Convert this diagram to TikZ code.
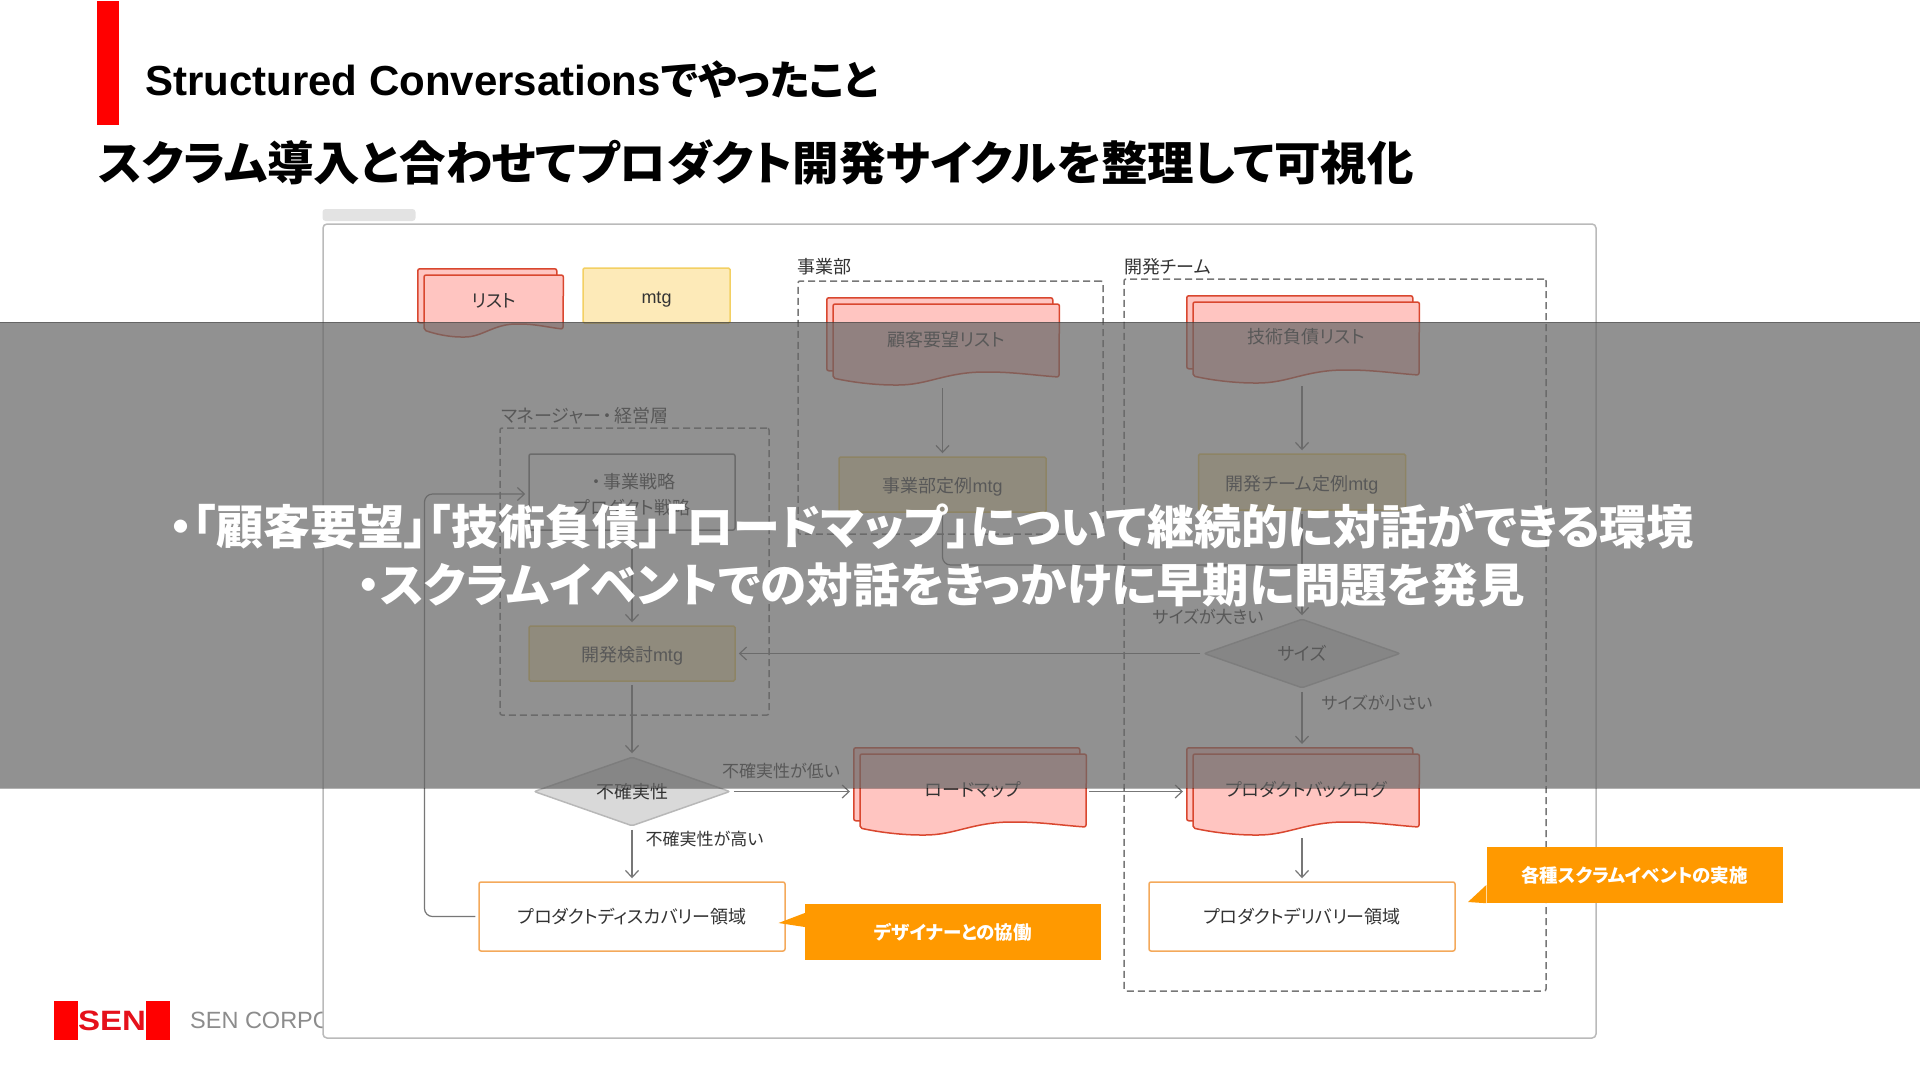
\documentclass[tikz,border=0pt]{standalone}
\usepackage{fontspec}
\setmainfont{Noto Sans CJK JP}[RawFeature=+palt]
\newfontfamily\latinfont{Liberation Sans}
\usetikzlibrary{arrows.meta,shapes.geometric}
\definecolor{barred}{HTML}{FF0000}
\definecolor{logored}{HTML}{E5101A}
\definecolor{docfill}{HTML}{FFC5C1}
\definecolor{docline}{HTML}{D9472F}
\definecolor{mtgfill}{HTML}{FDEAB8}
\definecolor{mtgline}{HTML}{F3D063}
\definecolor{arealine}{HTML}{F4A95B}
\definecolor{calloutfill}{HTML}{FF9900}
\definecolor{linegray}{HTML}{777777}
\definecolor{textgray}{HTML}{333333}
\definecolor{veilgray}{HTML}{676767}
\newcommand{\stackdoc}[6]{%
    \node[docback, minimum width=#4, minimum height=#5, anchor=north west] (#1back) at (#2,#3) {};
    \node[inner sep=0pt, minimum width=#4, minimum height=#5+8, anchor=north west] (#1) at (#2+7,#3+7) {};
    \draw[docfront] (#1.north west) -- (#1.north east) -- (#2+7+#4,#3+#5+7)
        .. controls (#2+7+0.9*#4,#3+#5+5.5) and (#2+7+0.8*#4,#3+#5+2) .. (#2+7+0.68*#4,#3+#5+2)
        .. controls (#2+7+0.5*#4,#3+#5+2) and (#2+7+0.42*#4,#3+#5+15) .. (#2+7+0.28*#4,#3+#5+15)
        .. controls (#2+7+0.2*#4,#3+#5+15) and (#2+7+0.1*#4,#3+#5+13) .. (#2+7,#3+#5+8) -- cycle;
    \node[plain] (#1label) at ([yshift=5.5pt]#1.center) {#6};
}
\begin{document}
\begin{tikzpicture}
    [x=1pt, y=-1pt,
    plain/.style={inner sep=0pt, text=textgray, font=\fontsize{18}{26}\selectfont},
    caption/.style={plain, anchor=west},
    sidenote/.style={plain, font=\fontsize{17}{26}\selectfont},
    boardbox/.style={draw=black!27, fill=white, line width=1.5pt, rounded corners=4pt, inner sep=0pt},
    team/.style={draw=linegray, dash pattern=on 7pt off 4pt, line width=1.5pt, rounded corners=2pt, inner sep=0pt},
    docback/.style={draw=docline, fill=docfill, line width=1.5pt, rounded corners=2pt, inner sep=0pt},
    docfront/.style={draw=docline, fill=docfill, line width=1.5pt, rounded corners=2pt},
    mtg/.style={plain, draw=mtgline, fill=mtgfill, line width=1.5pt, rounded corners=1.5pt, text height=19pt, text depth=2.6pt},
    planbox/.style={plain, draw=linegray, line width=1.5pt, rounded corners=2pt},
    areabox/.style={plain, draw=arealine, fill=white, line width=1.5pt, rounded corners=2pt},
    choice/.style={plain, diamond, shape aspect=2.84, draw=black!28, fill=black!15, line width=1.5pt, rounded corners=2pt, minimum width=196pt, minimum height=69pt},
    callout/.style={inner sep=0pt, fill=calloutfill, text=white, font=\fontsize{18.5}{22}\selectfont\bfseries, minimum width=296pt, minimum height=56pt},
    ->-/.style={draw=linegray, line width=1.2pt, -{Straight Barb[length=7pt, width=13pt]}, shorten >=3pt, shorten <=3pt},
    link/.style={draw=linegray, line width=1.2pt, shorten <=3pt, rounded corners=8pt},
    veilbox/.style={fill=veilgray, fill opacity=0.72, draw=black, draw opacity=0.3, line width=1pt, inner sep=0pt, minimum width=1922pt, minimum height=466pt},
    message/.style={inner sep=0pt, anchor=west, text=white, font=\fontsize{47}{56}\selectfont\bfseries}]
    \useasboundingbox (0,0) rectangle (1920,1080);

    %% Heading
    \node[fill=barred, inner sep=0pt, minimum width=22pt, minimum height=124pt] (bar) at (108,63) {};
    \node[inner sep=0pt, anchor=west, font=\fontsize{42}{48}\selectfont\bfseries] (title) at (145,80) {{\latinfont Structured Conversations}{\fontsize{41}{48}\selectfont でやったこと}};
    \node[inner sep=0pt, anchor=west, font=\fontsize{46.5}{56}\selectfont\bfseries] (subtitle) at (98,162) {スクラム導入と合わせてプロダクト開発サイクルを整理して可視化};

    %% Logo
    \node[fill=barred, inner sep=0pt, minimum width=24pt, minimum height=39pt] (logoL) at (66,1020.5) {};
    \node[fill=barred, inner sep=0pt, minimum width=24pt, minimum height=39pt] (logoR) at (158,1020.5) {};
    \node[inner sep=0pt, text=logored, xscale=1.18, transform shape, font=\latinfont\fontsize{28}{30}\selectfont\bfseries] (logoT) at (112,1021) {SEN};
    \node[inner sep=0pt, anchor=west, text=black!45, font=\latinfont\fontsize{23.5}{28}\selectfont] (corp) at (190,1020) {SEN CORPOR};

    %% Frame
    \node[fill=black!11, rounded corners=3pt, inner sep=0pt, minimum width=93pt, minimum height=12pt] (pill) at (369,215) {};
    \node[boardbox, minimum width=1273pt, minimum height=814pt] (board) at (959.5,631) {};

    %% Legend
    \stackdoc{legendDoc}{417}{268}{139}{54}{リスト}
    \node[mtg, minimum width=147pt, minimum height=55pt] (legendMtg) at (656.5,295.5) {{\latinfont mtg}};

    %% Teams
    \node[team, minimum width=305pt, minimum height=253pt] (bizTeam) at (950.5,407.5) {};
    \node[team, minimum width=422pt, minimum height=712pt] (devTeam) at (1335,635) {};
    \node[team, minimum width=269pt, minimum height=287pt] (mgrTeam) at (634.5,571.5) {};
    \node[caption] (bizTitle) at (797,267) {事業部};
    \node[caption] (devTitle) at (1124,267) {開発チーム};
    \node[caption] (mgrTitle) at (501,416) {マネージャー\kern2pt・\kern2pt経営層};

    %% Business side
    \stackdoc{custDoc}{826}{297}{226}{73}{顧客要望リスト}
    \node[mtg, minimum width=207pt, minimum height=55pt] (bizMtg) at (942.5,484.5) {事業部定例{\latinfont mtg}};

    %% Development side
    \stackdoc{debtDoc}{1186}{295}{226}{73}{技術負債リスト}
    \node[mtg, minimum width=207pt, minimum height=56pt] (devMtg) at (1302,482) {開発チーム定例{\latinfont mtg}};
    \node[choice] (sizeDec) at (1302,653.5) {サイズ};
    \node[sidenote] (bigLabel) at (1208,617) {サイズが大きい};
    \node[sidenote] (smallLabel) at (1377,703) {サイズが小さい};
    \stackdoc{backlogDoc}{1186}{747}{226}{73}{プロダクトバックログ}
    \node[areabox, minimum width=306pt, minimum height=69pt] (delivery) at (1302,916.5) {プロダクトデリバリー領域};

    %% Manager side
    \node[planbox, minimum width=206pt, minimum height=76pt, align=center] (strategy) at (632,492) {\rule{0pt}{20pt}\kern3pt・\kern3pt事業戦略\\プロダクト戦略};
    \node[mtg, minimum width=206pt, minimum height=55pt] (reviewMtg) at (632,653.5) {開発検討{\latinfont mtg}};
    \node[choice] (riskDec) at (632,791.5) {不確実性};
    \node[sidenote] (lowLabel) at (781,771) {不確実性が低い};
    \node[sidenote] (highLabel) at (704.5,839) {不確実性が高い};
    \stackdoc{roadDoc}{853}{747}{226}{73}{ロードマップ}
    \node[areabox, minimum width=306pt, minimum height=69pt] (discovery) at (632,916.5) {プロダクトディスカバリー領域};

    %% Connectors
    \coordinate (loopTop) at (424.5,494);
    \coordinate (joinPt) at (1302,565);
    \draw[->-] (custDoc.south -| bizMtg.north) to (bizMtg.north);
    \draw[->-] (debtDoc.south -| devMtg.north) to (devMtg.north);
    \draw[link] (bizMtg.south) |- (joinPt);
    \draw[->-] (devMtg.south) to (sizeDec.north);
    \draw[->-] (sizeDec.west) to (reviewMtg.east);
    \draw[->-] (sizeDec.south) to (backlogDocback.north -| sizeDec.south);
    \draw[->-] (backlogDoc.south -| delivery.north) to (delivery.north);
    \draw[->-] (strategy.south) to (reviewMtg.north);
    \draw[->-] (reviewMtg.south) to (riskDec.north);
    \draw[->-] (riskDec.east) to (riskDec.east -| roadDocback.west);
    \draw[->-] (roadDoc.east |- riskDec.east) to (riskDec.east -| backlogDocback.west);
    \draw[->-] (riskDec.south) to (discovery.north);
    \draw[->-, rounded corners=8pt] (discovery.west) -| (loopTop) -- (loopTop -| strategy.west);

    %% Callouts
    \node[callout] (designCall) at (953,932) {デザイナーとの協働};
    \fill[calloutfill] (778.5,923) -- (designCall.west |- 0,913) -- (designCall.west |- 0,927) -- cycle;
    \node[callout] (scrumCall) at (1634.5,875) {各種スクラムイベントの実施};
    \fill[calloutfill] (1468,902) -- (scrumCall.west |- 0,885) -- (scrumCall.south west) -- cycle;

    %% Overlay
    \node[veilbox] (veil) at (960,555) {};
    \node[message] (msgOne) at (169,526) {・「顧客要望」「技術負債」「ロードマップ」について継続的に対話ができる環境};
    \node[message, font=\fontsize{46.5}{56}\selectfont\bfseries] (msgTwo) at (357,585) {・スクラムイベントでの対話をきっかけに早期に問題を発見};
\end{tikzpicture}
\end{document}
